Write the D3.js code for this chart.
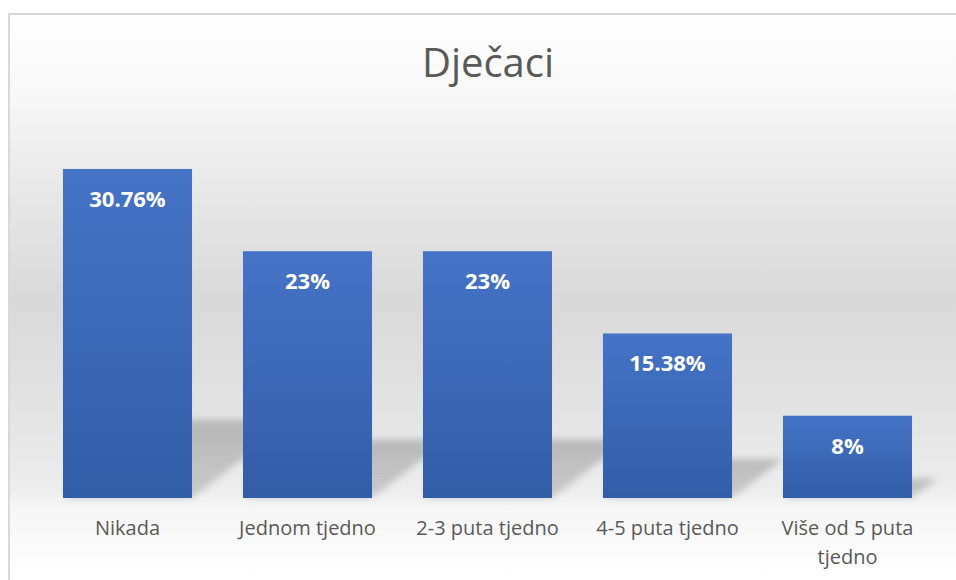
<!DOCTYPE html>
<html>
<head>
<meta charset="utf-8">
<script src="https://cdn.jsdelivr.net/npm/d3@7"></script>
<style>
  html, body { margin: 0; padding: 0; background: #ffffff; }
  svg { display: block; }
</style>
</head>
<body>
<svg id="chart" width="956" height="580"></svg>
<script>
const title = "Dječaci";
const categories = ["Nikada", "Jednom tjedno", "2-3 puta tjedno", "4-5 puta tjedno", "Više od 5 puta tjedno"];
const values = [30.76, 23.07, 23.07, 15.38, 7.69];
const valueLabels = ["30.76%", "23%", "23%", "15.38%", "8%"];

const W = 956, H = 580;
const svg = d3.select("#chart");
const defs = svg.append("defs");

// background gradient
const bg = defs.append("linearGradient").attr("id", "bgGrad")
  .attr("gradientUnits", "userSpaceOnUse").attr("x1", 0).attr("x2", 0).attr("y1", 14).attr("y2", 580);
[[14, "#ffffff"], [100, "#f7f7f7"], [170, "#ebebeb"], [300, "#d9d9d9"], [400, "#e2e2e2"], [490, "#ededed"], [505, "#f5f5f5"], [580, "#ffffff"]]
  .forEach(([y, c]) => bg.append("stop").attr("offset", (y - 14) / 566).attr("stop-color", c));

// bar gradient
const bgBar = defs.append("linearGradient").attr("id", "barGrad").attr("x1", 0).attr("x2", 0).attr("y1", 0).attr("y2", 1);
bgBar.append("stop").attr("offset", 0).attr("stop-color", "#4573c6");
bgBar.append("stop").attr("offset", 1).attr("stop-color", "#325da7");

// shadow gradient + blur
const shG = defs.append("linearGradient").attr("id", "shGrad").attr("x1", 0).attr("x2", 0).attr("y1", 0).attr("y2", 1);
shG.append("stop").attr("offset", 0).attr("stop-color", "#000").attr("stop-opacity", 0.2);
shG.append("stop").attr("offset", 1).attr("stop-color", "#000").attr("stop-opacity", 0.15);
defs.append("filter").attr("id", "blur").attr("x", "-20%").attr("y", "-20%").attr("width", "140%").attr("height", "140%")
  .append("feGaussianBlur").attr("stdDeviation", 3.5);

// chart area with border
svg.append("rect").attr("x", 9).attr("y", 14).attr("width", W + 20).attr("height", H + 20)
  .attr("fill", "url(#bgGrad)").attr("stroke", "#d9d9d9").attr("stroke-width", 2);

// scales
const x = d3.scaleBand().domain(categories).range([37.5, 937.5]).paddingInner(0.283).paddingOuter(0.1415);
const y = d3.scaleLinear().domain([0, 35]).range([498, 123.6]);

// perspective shadows
const shadowG = svg.append("g").attr("filter", "url(#blur)");
categories.forEach((c, i) => {
  const x0 = x(c), x1 = x(c) + x.bandwidth();
  const base = y(0);
  const h = (base - y(values[i])) * 0.237;
  const d = h / 0.77;
  shadowG.append("path")
    .attr("d", `M${x0},${base} L${x1},${base} L${x1 + d},${base - h} L${x0 + d},${base - h} Z`)
    .attr("fill", "url(#shGrad)");
});

// bars
svg.append("g").selectAll("rect").data(values).join("rect")
  .attr("x", (d, i) => x(categories[i]))
  .attr("y", d => y(d))
  .attr("width", x.bandwidth())
  .attr("height", d => y(0) - y(d))
  .attr("fill", "url(#barGrad)");

// value labels
svg.append("g").selectAll("text").data(values).join("text")
  .attr("x", (d, i) => x(categories[i]) + x.bandwidth() / 2)
  .attr("y", d => y(d) + 38)
  .attr("text-anchor", "middle")
  .attr("font-family", "'Open Sans', sans-serif")
  .attr("font-weight", 700)
  .attr("font-size", 22)
  .attr("fill", "#ffffff")
  .text((d, i) => valueLabels[i]);

// x axis
const ax = svg.append("g").attr("transform", `translate(0,${y(0)})`)
  .call(d3.axisBottom(x).tickSize(0).tickPadding(0));
ax.select(".domain").remove();
ax.selectAll("text")
  .attr("font-family", "'Open Sans', sans-serif")
  .attr("font-size", 20)
  .attr("fill", "#595959")
  .attr("dy", null)
  .attr("y", 37)
  .each(function(d) {
    const t = d3.select(this);
    if (d === "Više od 5 puta tjedno") {
      t.text(null);
      t.append("tspan").attr("x", 0).attr("y", 37).text("Više od 5 puta");
      t.append("tspan").attr("x", 0).attr("y", 66).text("tjedno");
    }
  });

// title
svg.append("text")
  .attr("x", 488).attr("y", 77)
  .attr("text-anchor", "middle")
  .attr("font-family", "'Open Sans', sans-serif")
  .attr("font-size", 40)
  .attr("fill", "#595959")
  .text(title);
</script>
</body>
</html>
